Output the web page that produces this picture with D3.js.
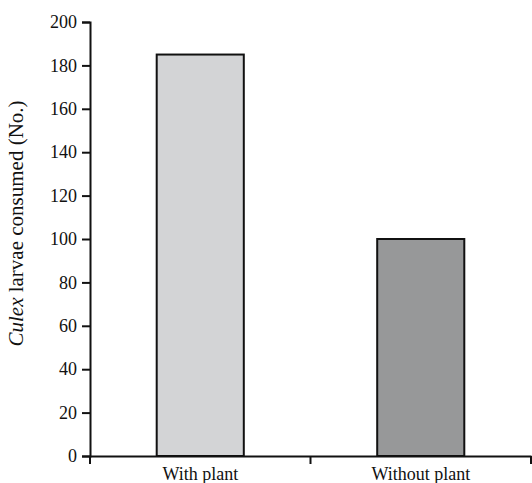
<!DOCTYPE html>
<html>
<head>
<meta charset="utf-8">
<script src="https://cdn.jsdelivr.net/npm/d3@7"></script>
<style>
  body { margin: 0; background: #fff; }
  svg text { font-family: "Liberation Serif", "Times New Roman", serif; fill: #111; }
</style>
</head>
<body>
<script>
// chart data
var categories = ["With plant", "Without plant"];
var consumed = [185, 100];
var barColors = ["#d3d4d6", "#979899"];
var yTicks = [0, 20, 40, 60, 80, 100, 120, 140, 160, 180, 200];

function init() {
    var margin = {top: 22, right: 1, bottom: 27, left: 90};
    var w = 532 - margin.left - margin.right;
    var h = 483 - margin.top - margin.bottom;

    var svg = d3.select("body")
        .append("svg")
        .attr("width", 532)
        .attr("height", 483)
        .append("g")
        .attr("transform", "translate(" + margin.left + "," + margin.top + ")");

    // x scale, one band per category
    var xScale = d3.scaleBand()
        .domain(categories)
        .range([0, w])
        .padding(0);

    var yScale = d3.scaleLinear()
        .domain([0, 200])
        .range([h, 0]);

    var barW = xScale.bandwidth() * 0.395;

    // bars
    svg.selectAll("rect.bar")
        .data(consumed)
        .enter()
        .append("rect")
        .attr("class", "bar")
        .attr("x", function(d, i) { return xScale(categories[i]) + (xScale.bandwidth() - barW) / 2; })
        .attr("y", function(d) { return yScale(d); })
        .attr("width", barW)
        .attr("height", function(d) { return h - yScale(d); })
        .attr("fill", function(d, i) { return barColors[i]; })
        .attr("stroke", "#111")
        .attr("stroke-width", 2);

    // y axis
    var yAxis = svg.append("g")
        .call(d3.axisLeft(yScale).tickValues(yTicks).tickSize(8).tickSizeOuter(8).tickPadding(5));
    yAxis.selectAll("text").style("font-size", "18px");

    // x axis: labels only, ticks at band edges
    var xAxis = svg.append("g")
        .attr("transform", "translate(0," + h + ")")
        .call(d3.axisBottom(xScale).tickSize(0).tickSizeOuter(0).tickPadding(11));
    xAxis.selectAll("text").style("font-size", "18px");

    var edges = [0].concat(categories.map(function(c) { return xScale(c) + xScale.bandwidth(); }));
    xAxis.selectAll("line.edge")
        .data(edges)
        .enter()
        .append("line")
        .attr("class", "edge")
        .attr("x1", function(d) { return d; })
        .attr("x2", function(d) { return d; })
        .attr("y1", 0)
        .attr("y2", 8)
        .attr("stroke", "#111");

    svg.selectAll(".domain, .tick line, line.edge")
        .attr("stroke", "#111")
        .attr("stroke-width", 2);

    // y label
    var yLabel = svg.append("text")
        .attr("transform", "rotate(-90)")
        .attr("x", -201.5)
        .attr("y", -67)
        .attr("text-anchor", "middle")
        .style("font-size", "21px");
    yLabel.append("tspan").style("font-style", "italic").text("Culex");
    yLabel.append("tspan").text(" larvae consumed (No.)");
}

window.onload = init;
</script>
</body>
</html>
